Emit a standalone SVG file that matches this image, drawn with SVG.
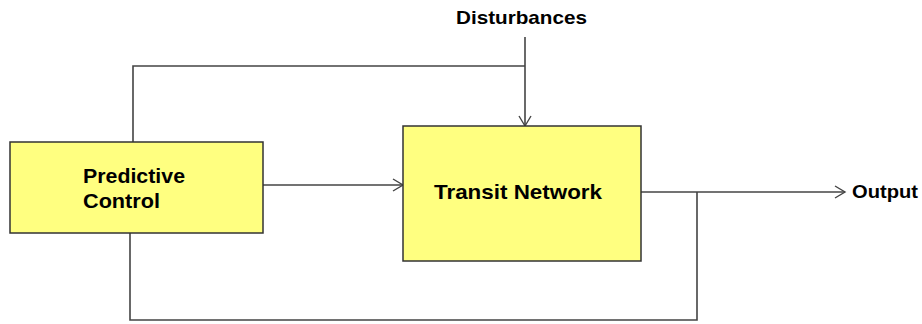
<svg xmlns="http://www.w3.org/2000/svg" width="922" height="324" viewBox="0 0 922 324">
<style>
.box{fill:#ffff80;stroke:#333;stroke-width:1.5}
.ln{fill:none;stroke:#444;stroke-width:1.6}
.t{font-family:"Liberation Sans",Arial,sans-serif;font-weight:bold;font-size:21px;fill:#000}
</style>
<defs>
<marker id="ah" markerWidth="14" markerHeight="14" refX="11" refY="7" orient="auto" markerUnits="userSpaceOnUse">
<path d="M1,1 L11,7 L1,13" fill="none" stroke="#444" stroke-width="1.4"/>
</marker>
</defs>
<rect width="922" height="324" fill="#fff"/>
<g id="connectors">
<path class="ln" d="M133,142 V66 H525"/>
<path class="ln" d="M525,37 V126" marker-end="url(#ah)"/>
<path class="ln" d="M263,185 H403" marker-end="url(#ah)"/>
<path class="ln" d="M641,192 H845" marker-end="url(#ah)"/>
<path class="ln" d="M697,192 V320 H130 V233"/>
</g>
<g id="predictive-control">
<rect class="box" x="10" y="142" width="253" height="91"/>
<text class="t" x="83" y="183" textLength="102" lengthAdjust="spacingAndGlyphs">Predictive</text>
<text class="t" x="83" y="208" textLength="77" lengthAdjust="spacingAndGlyphs">Control</text>
</g>
<g id="transit-network">
<rect class="box" x="403" y="126" width="238" height="135"/>
<text class="t" x="434" y="199" textLength="168" lengthAdjust="spacingAndGlyphs">Transit Network</text>
</g>
<g id="disturbances">
<text class="t" x="456" y="24" textLength="131" lengthAdjust="spacingAndGlyphs" style="font-size:19px">Disturbances</text>
</g>
<g id="output">
<text class="t" x="852" y="198" textLength="66" lengthAdjust="spacingAndGlyphs" style="font-size:19px">Output</text>
</g>
</svg>
